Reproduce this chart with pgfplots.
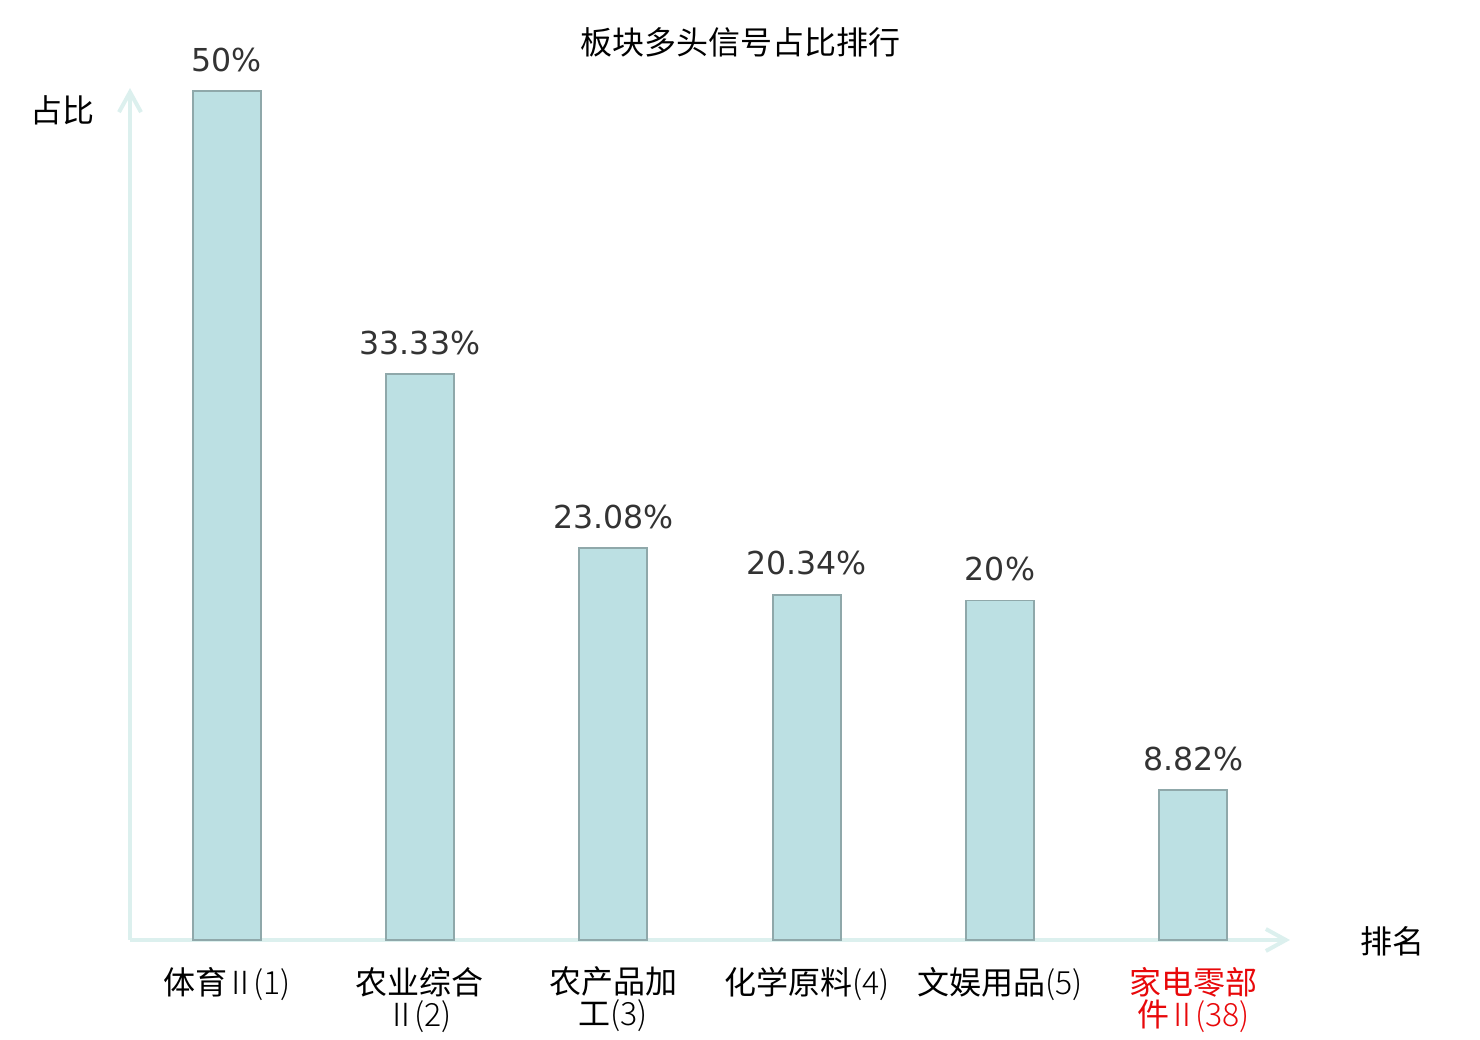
\documentclass[border=0pt]{standalone}
\usepackage{fontspec}
\setmainfont{Noto Sans CJK SC}
\newfontfamily\thin{Noto Sans CJK SC}[UprightFont={* Light}]
\newfontfamily\dejavu{DejaVu Sans}
\usepackage{pgfplots}
\pgfplotsset{compat=1.18}
\usetikzlibrary{arrows.meta}
\definecolor{barfill}{HTML}{BCE0E3}
\definecolor{bardraw}{HTML}{8FA8AA}
\definecolor{axcol}{HTML}{DCF0EE}
\definecolor{lab}{HTML}{333333}
\definecolor{redlab}{HTML}{E8080A}
\newcommand{\rn}{{\thin\kern-1.5pt Ⅱ\kern-1.5pt}}
\begin{document}
\begin{tikzpicture}
\path[use as bounding box] (0,0) rectangle (740pt,520pt);
\begin{axis}[
  at={(65pt,50pt)}, anchor=south west,
  scale only axis, width=580pt, height=426pt,
  xmin=-0.5, xmax=5.5, ymin=0, ymax=50.18,
  axis x line=bottom, axis y line=left,
  axis line style={draw=axcol, line width=2pt, -{Straight Barb[length=10pt,width=11pt,line width=2pt]}},
  xtick=data, ytick=\empty, major tick length=0pt,
  xticklabels={体育\rn{\thin(1)}, 农业综合\\\rn{\thin(2)}, 农产品加\\工{\thin(3)}, 化学原料{\thin(4)}, 文娱用品{\thin(5)}, \textcolor{redlab}{家电零部}\\\textcolor{redlab}{件\rn{\thin(38)}}},
  xticklabel style={align=center, font=\fontsize{16}{16}\selectfont, yshift=-10pt, text=black},
  ybar, bar width=34pt,
  point meta=explicit symbolic,
  nodes near coords={\pgfplotspointmeta},
  nodes near coords style={font=\dejavu\fontsize{15.8}{15.8}\selectfont, text=lab, anchor=south, yshift=6pt},
  clip=false,
]
\addplot[fill=barfill, draw=bardraw, line width=0.9pt] coordinates {
  (0,50) [50\%]
  (1,33.33) [33.33\%]
  (2,23.08) [23.08\%]
  (3,20.34) [20.34\%]
  (4,20) [20\%]
  (5,8.82) [8.82\%]
};
\end{axis}
\node[font=\fontsize{16}{16}\selectfont] at (370pt,499pt) {板块多头信号占比排行};
\node[font=\fontsize{16}{16}\selectfont] at (31.5pt,465pt) {占比};
\node[font=\fontsize{16}{16}\selectfont] at (696pt,49.5pt) {排名};
\end{tikzpicture}
\end{document}
